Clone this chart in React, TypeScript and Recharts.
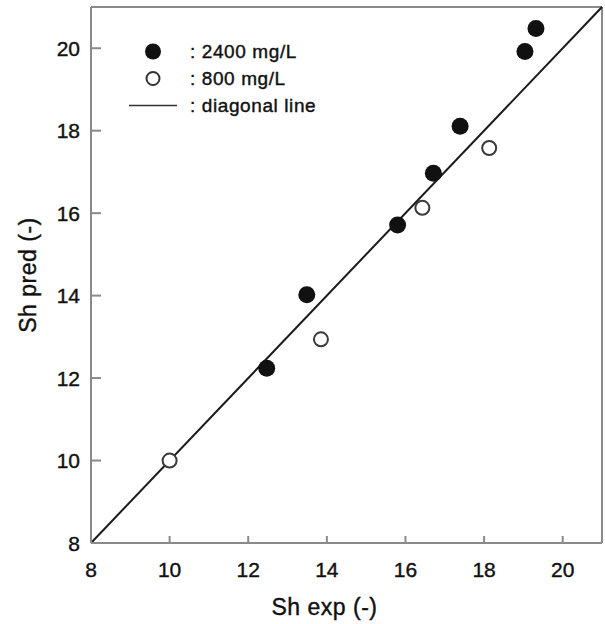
import { ReferenceLine, Scatter, ScatterChart, XAxis, YAxis } from "recharts";

// Sh exp / Sh pred
const exp2400 = [12.47, 13.49, 15.8, 16.71, 17.39, 19.04, 19.32];
const pred2400 = [12.24, 14.02, 15.71, 16.97, 18.11, 19.92, 20.48];
const exp800 = [10.0, 13.85, 16.43, 18.13];
const pred800 = [10.0, 12.94, 16.13, 17.58];
const axisTicks = [8, 10, 12, 14, 16, 18, 20];
const axisDomain = [8, 21];

const data2400 = exp2400.map((x, i) => ({ x, y: pred2400[i] }));
const data800 = exp800.map((x, i) => ({ x, y: pred800[i] }));

const FONT = "'Liberation Sans', Arial, sans-serif";
const FRAME = "#8a8a8a";
const INK = "#111";
// scanned text is a bit heavier than plain regular
const heavy = { stroke: INK, strokeWidth: 0.4 };

const XTick = (props: any) => {
  const { x, y, payload } = props;
  return (
    <g>
      <line x1={x} y1={y} x2={x} y2={y - 7} stroke={FRAME} strokeWidth={2} />
      <text x={x} y={y + 26} textAnchor="middle" dominantBaseline="central" fontSize={21} fill={INK} fontFamily={FONT} {...heavy}>
        {payload.value}
      </text>
    </g>
  );
};

const YTick = (props: any) => {
  const { x, y, payload } = props;
  return (
    <g>
      <line x1={x} y1={y} x2={x + 10} y2={y} stroke={FRAME} strokeWidth={2} />
      <text x={x - 11} y={y} textAnchor="end" dominantBaseline="central" fontSize={21} fill={INK} fontFamily={FONT} {...heavy}>
        {payload.value}
      </text>
    </g>
  );
};

const LegendBox = () => {
  const rows = [
    { label: ": 2400 mg/L", icon: <circle cx={24} cy={13.5} r={8} fill={INK} /> },
    { label: ": 800 mg/L", icon: <circle cx={24} cy={13.5} r={6.5} fill="#fff" stroke="#333" strokeWidth={2} /> },
    { label: ": diagonal line", icon: <line x1={0} y1={13.5} x2={48} y2={13.5} stroke="#333" strokeWidth={1.5} /> },
  ];
  return (
    <div
      style={{
        position: "absolute",
        left: 129,
        top: 38,
        fontFamily: FONT,
        fontSize: 19,
        color: INK,
        letterSpacing: 0.6,
        WebkitTextStroke: "0.4px #111",
      }}
    >
      {rows.map((r) => (
        <div key={r.label} style={{ display: "flex", alignItems: "center", height: 27 }}>
          <svg width={48} height={27}>{r.icon}</svg>
          <span style={{ marginLeft: 13 }}>{r.label}</span>
        </div>
      ))}
    </div>
  );
};

const App = () => {
  return (
    <div style={{ position: "absolute", left: 0, top: 0, width: 605, height: 624, background: "#fff" }}>
      <ScatterChart width={605} height={624} margin={{ top: 7, right: 3, bottom: 0, left: 0 }}>
        <XAxis
          type="number"
          dataKey="x"
          domain={axisDomain}
          ticks={axisTicks}
          allowDataOverflow
          height={81}
          tickSize={0}
          tickMargin={0}
          tickLine={false}
          axisLine={{ stroke: FRAME, strokeWidth: 2 }}
          tick={<XTick />}
          label={{
            content: (p: any) => (
              <text
                x={p.viewBox.x + p.viewBox.width / 2 - 22}
                y={615}
                textAnchor="middle"
                fontSize={23}
                letterSpacing={0.5}
                fill={INK}
                fontFamily={FONT}
                {...heavy}
              >
                Sh exp (-)
              </text>
            ),
          }}
        />
        <YAxis
          type="number"
          dataKey="y"
          domain={axisDomain}
          ticks={axisTicks}
          allowDataOverflow
          width={91}
          tickSize={0}
          tickMargin={0}
          tickLine={false}
          axisLine={{ stroke: FRAME, strokeWidth: 2 }}
          tick={<YTick />}
          label={{
            content: (p: any) => {
              const cy = p.viewBox.y + p.viewBox.height / 2;
              return (
                <text
                  x={28}
                  y={cy}
                  transform={`rotate(-90, 28, ${cy})`}
                  textAnchor="middle"
                  dominantBaseline="central"
                  fontSize={23}
                  letterSpacing={0.5}
                  fill={INK}
                  fontFamily={FONT}
                  {...heavy}
                >
                  Sh pred (-)
                </text>
              );
            },
          }}
        />
        <ReferenceLine y={21} stroke={FRAME} strokeWidth={2} />
        <ReferenceLine x={21} stroke={FRAME} strokeWidth={2} />
        <ReferenceLine
          segment={[
            { x: 8, y: 8 },
            { x: 21, y: 21 },
          ]}
          stroke="#1a1a1a"
          strokeWidth={2}
        />
        <Scatter
          name="2400 mg/L"
          data={data2400}
          isAnimationActive={false}
          shape={(p: any) => <circle cx={p.cx} cy={p.cy} r={8.5} fill={INK} />}
        />
        <Scatter
          name="800 mg/L"
          data={data800}
          isAnimationActive={false}
          shape={(p: any) => <circle cx={p.cx} cy={p.cy} r={7} fill="#fff" stroke="#3a3a3a" strokeWidth={2} />}
        />
      </ScatterChart>
      <LegendBox />
    </div>
  );
};

export default App;
